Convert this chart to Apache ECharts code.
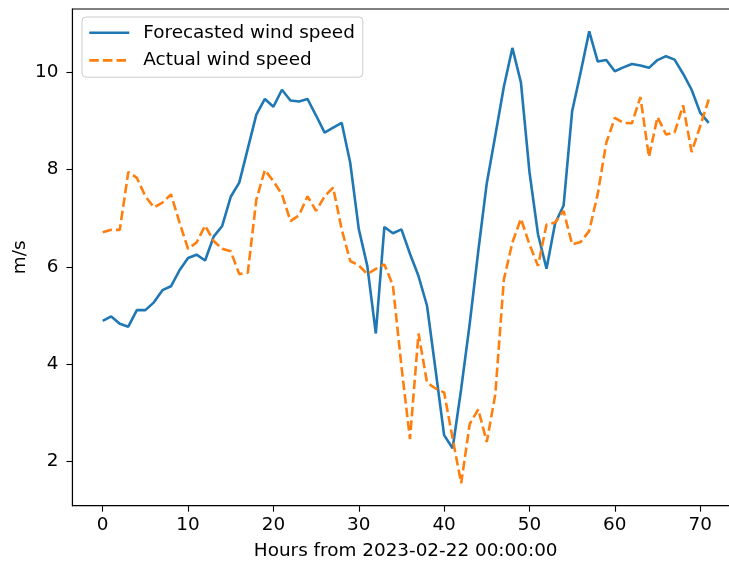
<!DOCTYPE html>
<html>
<head>
<meta charset="utf-8">
<script src="https://cdn.jsdelivr.net/npm/echarts@6/dist/echarts.min.js"></script>
<style>
  html, body { margin: 0; padding: 0; background: #ffffff; }
  #chart { width: 729px; height: 562px; }
</style>
</head>
<body>
<div id="chart"></div>
<script>
// Hourly wind speed, starting 2023-02-22 00:00:00
const hours = Array.from({ length: 72 }, (_, i) => i);

const forecastSpeed = [
  4.89, 4.98, 4.83, 4.77, 5.11, 5.11, 5.27, 5.52, 5.60, 5.93,
  6.18, 6.25, 6.13, 6.62, 6.84, 7.44, 7.73, 8.43, 9.13, 9.45,
  9.29, 9.64, 9.42, 9.40, 9.45, 9.11, 8.76, 8.86, 8.96, 8.14,
  6.78, 6.02, 4.63, 6.82, 6.69, 6.77, 6.27, 5.81, 5.20, 3.88,
  2.54, 2.27, 3.49, 4.83, 6.32, 7.72, 8.70, 9.70, 10.50, 9.79,
  7.95, 6.67, 5.96, 6.89, 7.26, 9.20, 10.00, 10.84, 10.22, 10.25,
  10.02, 10.10, 10.17, 10.14, 10.09, 10.25, 10.33, 10.26, 9.97, 9.64,
  9.17, 8.96
];

const actualSpeed = [
  6.71, 6.76, 6.76, 7.95, 7.83, 7.45, 7.22, 7.32, 7.49, 6.91,
  6.37, 6.50, 6.85, 6.53, 6.37, 6.32, 5.85, 5.88, 7.38, 7.99,
  7.76, 7.49, 6.94, 7.06, 7.45, 7.15, 7.45, 7.63, 6.77, 6.12,
  6.03, 5.85, 5.96, 6.05, 5.62, 3.96, 2.46, 4.63, 3.62, 3.50,
  3.42, 2.47, 1.55, 2.77, 3.07, 2.40, 3.38, 5.74, 6.50, 6.99,
  6.46, 6.02, 6.87, 6.91, 7.15, 6.46, 6.51, 6.74, 7.50, 8.55,
  9.06, 8.96, 8.95, 9.49, 8.26, 9.08, 8.72, 8.76, 9.32, 8.36,
  8.89, 9.44
];

const xTicks = [0, 10, 20, 30, 40, 50, 60, 70];
const yTicks = [2, 4, 6, 8, 10];

const FONT = 'DejaVu Sans';
const FS = 18.4;
const BLUE = '#1f77b4';
const ORANGE = '#ff7f0e';
const LW = 2.6;
const DASH = [9.5, 4.1];

const pairs = (ys) => hours.map((h, i) => [h, ys[i]]);

const chart = echarts.init(document.getElementById('chart'), null, { renderer: 'canvas' });

chart.setOption({
  animation: false,
  backgroundColor: '#ffffff',
  textStyle: { fontFamily: FONT, color: '#000' },
  grid: {
    left: 72.4, top: 9, width: 666.6, height: 496.7,
    outerBoundsMode: 'none', containLabel: false,
    show: true, borderColor: '#000', borderWidth: 1.1, backgroundColor: 'transparent'
  },
  legend: {
    left: 82, top: 17,
    orient: 'vertical',
    itemWidth: 40, itemHeight: 14, itemGap: 9.6,
    padding: [6.8, 8, 7.8, 6],
    backgroundColor: 'rgba(255,255,255,0.8)',
    borderColor: '#cccccc', borderWidth: 1, borderRadius: 4,
    // line-only keys: hide the marker the line series adds to its key
    itemStyle: { color: 'transparent', borderWidth: 0, opacity: 0 },
    lineStyle: { width: LW },
    textStyle: { fontFamily: FONT, fontSize: FS, color: '#000', padding: [0, 0, 0, 9] },
    data: ['Forecasted wind speed', 'Actual wind speed']
  },
  xAxis: {
    type: 'value',
    min: -3.55, max: 74.55,
    name: 'Hours from 2023-02-22 00:00:00',
    nameLocation: 'middle', nameGap: 37,
    nameTextStyle: { fontFamily: FONT, fontSize: FS, color: '#000' },
    axisLine: { show: true, onZero: false, lineStyle: { color: '#000', width: 1.1 } },
    axisTick: { show: true, length: 6, customValues: xTicks, lineStyle: { color: '#000', width: 1.1 } },
    axisLabel: { customValues: xTicks, margin: 11, fontFamily: FONT, fontSize: FS, color: '#000' },
    splitLine: { show: false }
  },
  yAxis: {
    type: 'value',
    min: 1.09, max: 11.30,
    name: 'm/s',
    nameLocation: 'middle', nameGap: 43, nameRotate: 90,
    nameMoveOverlap: false,
    nameTextStyle: { fontFamily: FONT, fontSize: FS, color: '#000' },
    axisLine: { show: true, onZero: false, lineStyle: { color: '#000', width: 1.1 } },
    axisTick: { show: true, length: 6, customValues: yTicks, lineStyle: { color: '#000', width: 1.1 } },
    axisLabel: { customValues: yTicks, margin: 14, fontFamily: FONT, fontSize: FS, color: '#000' },
    splitLine: { show: false }
  },
  series: [
    {
      name: 'Forecasted wind speed',
      type: 'line',
      data: pairs(forecastSpeed),
      showSymbol: false, symbol: 'none',
      lineStyle: { color: BLUE, width: LW },
      itemStyle: { color: BLUE }
    },
    {
      name: 'Actual wind speed',
      type: 'line',
      data: pairs(actualSpeed),
      showSymbol: false, symbol: 'none',
      lineStyle: { color: ORANGE, width: LW, type: DASH },
      itemStyle: { color: ORANGE }
    }
  ]
});
</script>
</body>
</html>
